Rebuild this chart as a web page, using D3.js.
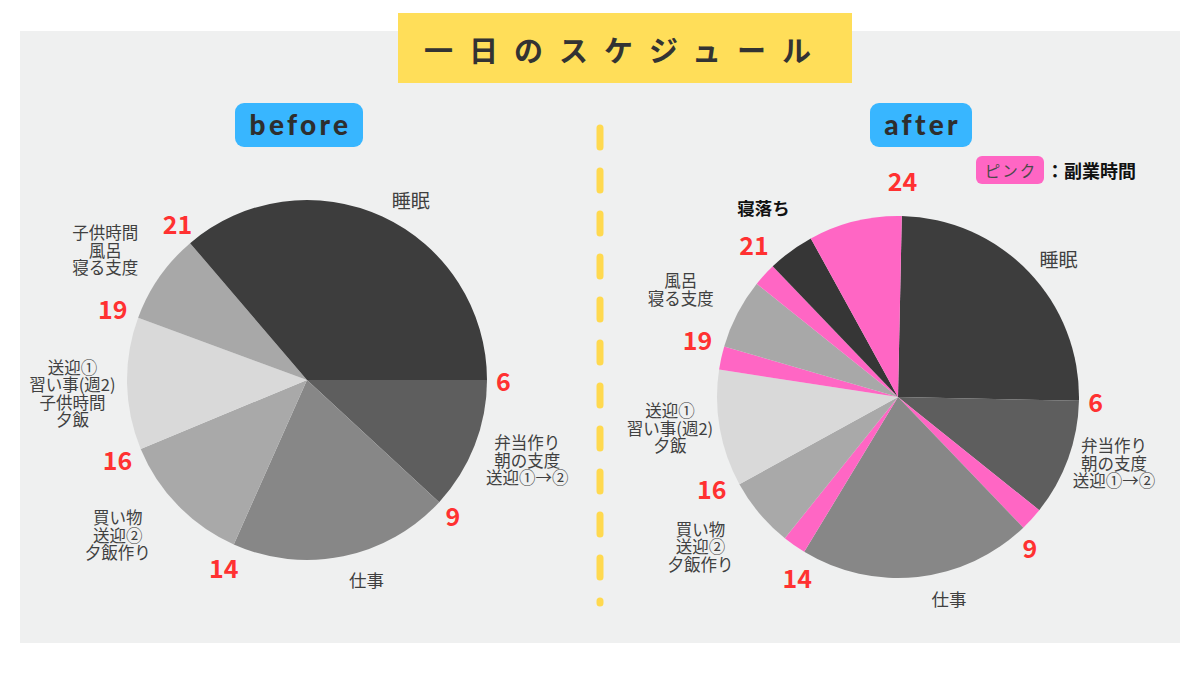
<!DOCTYPE html>
<html>
<head>
<meta charset="utf-8">
<script src="https://cdn.jsdelivr.net/npm/d3@7"></script>
<style>
  body { margin: 0; background: #fff; }
  text { font-family: "Noto Sans CJK JP", "Noto Sans", sans-serif; }
</style>
</head>
<body>
<div id="chart"></div>
<script>
// ---- data: before ----
var beforeKeys   = ["morning", "work", "shopping", "pickup", "bath", "sleep"];
var beforeLabels = [["弁当作り", "朝の支度", "送迎①→②"], ["仕事"], ["買い物", "送迎②", "夕飯作り"],
                    ["送迎①", "習い事(週2)", "子供時間", "夕飯"], ["子供時間", "風呂", "寝る支度"], ["睡眠"]];
var beforeHours  = [2.85, 4.75, 2.9, 2.85, 1.95, 8.7];
var beforeTicks  = ["6", "9", "14", "16", "19", "21"];
var beforeTickAt = [0, 1, 2, 3, 4, 5];   // slice whose start the tick marks

// ---- data: after ----
var afterKeys   = ["sleep", "morning", "side", "work", "side", "shopping", "pickup", "side", "bath", "side", "doze", "side"];
var afterLabels = [["睡眠"], ["弁当作り", "朝の支度", "送迎①→②"], [], ["仕事"], [], ["買い物", "送迎②", "夕飯作り"],
                   ["送迎①", "習い事(週2)", "夕飯"], [], ["風呂", "寝る支度"], [], ["寝落ち"], []];
var afterHours  = [6, 2.5, 0.5, 5, 0.5, 1.5, 2.5, 0.5, 1.5, 0.5, 1, 2];
var afterTicks  = ["24", "6", "9", "14", "16", "19", "21"];
var afterTickAt = [0, 1, 3, 4, 6, 8, 10];

// colours per category
var color = d3.scaleOrdinal()
  .domain(["sleep", "morning", "work", "shopping", "pickup", "bath", "doze", "side"])
  .range(["#3d3d3d", "#5e5e5e", "#878787", "#a9a9a9", "#d9d9d9", "#a8a8a8", "#363636", "#ff66c4"]);

// label font size per category
var labelSize = { sleep: 19, work: 17.5, doze: 17.5 };
var lineH = 17.5;

var svg = d3.select("#chart").append("svg")
  .attr("width", 1200)
  .attr("height", 675);

svg.append("rect").attr("width", 1200).attr("height", 675).attr("fill", "#fff");
svg.append("rect")
  .attr("x", 20).attr("y", 31).attr("width", 1160).attr("height", 612)
  .attr("fill", "#eff0f0");

// title
svg.append("rect")
  .attr("x", 398).attr("y", 13).attr("width", 454).attr("height", 70)
  .attr("fill", "#ffde59");
svg.append("text")
  .attr("x", 424).attr("y", 49)
  .attr("dominant-baseline", "central")
  .attr("font-size", 29).attr("font-weight", 700)
  .attr("letter-spacing", 16)
  .attr("fill", "#333")
  .text("一日のスケジュール");

// divider
svg.append("line")
  .attr("x1", 600).attr("x2", 600).attr("y1", 128).attr("y2", 603)
  .attr("stroke", "#ffd94f").attr("stroke-width", 7)
  .attr("stroke-linecap", "round")
  .attr("stroke-dasharray", "19 24");

// badges
function badge(x, w, label) {
  svg.append("rect")
    .attr("x", x).attr("y", 103).attr("width", w).attr("height", 44)
    .attr("rx", 9).attr("fill", "#38b6ff");
  svg.append("text")
    .attr("x", x + w / 2 + 1.5).attr("y", 124)
    .attr("text-anchor", "middle").attr("dominant-baseline", "central")
    .style("font-family", "Lato, sans-serif")
    .attr("font-size", 28).attr("font-weight", 900)
    .attr("letter-spacing", 3.3)
    .attr("fill", "#2e2e2e")
    .text(label);
}
badge(235, 128, "before");
badge(870, 102, "after");

// legend
svg.append("rect")
  .attr("x", 976).attr("y", 156).attr("width", 68).attr("height", 28)
  .attr("rx", 6).attr("fill", "#ff66c4");
svg.append("text")
  .attr("x", 1011).attr("y", 170)
  .attr("text-anchor", "middle").attr("dominant-baseline", "central")
  .attr("font-size", 15.5).attr("letter-spacing", 2)
  .attr("fill", "#4a4a4a")
  .text("ピンク");
svg.append("text")
  .attr("x", 1046).attr("y", 170)
  .attr("dominant-baseline", "central")
  .attr("font-size", 18).attr("font-weight", 700)
  .attr("fill", "#111")
  .text("：副業時間");

// move a text block (centred on 0,0) just outside the pie at angle a
function placeOut(node, a, dist, w, h) {
  var sx = Math.sin(a), sy = -Math.cos(a);
  var ext = Math.abs(sx) * w / 2 + Math.abs(sy) * h / 2;
  d3.select(node).attr("transform",
    "translate(" + (sx * (dist + ext)) + "," + (sy * (dist + ext)) + ")");
}

function drawPie(opt) {
  var rows = opt.keys.map(function(k, i) {
    return { key: k, hours: opt.hours[i], label: opt.labels[i] };
  });

  var pie = d3.pie()
    .sort(null)
    .value(d => d.hours)
    .startAngle(opt.start)
    .endAngle(opt.start + 2 * Math.PI);

  var arc = d3.arc().innerRadius(0).outerRadius(opt.r);
  var arcs = pie(rows);

  var g = svg.append("g")
    .attr("transform", `translate(${opt.cx}, ${opt.cy})`);

  g.selectAll("path")
    .data(arcs)
    .enter()
    .append("path")
    .attr("d", arc)
    .attr("fill", d => color(d.data.key));

  // activity labels
  arcs.forEach(function(d, i) {
    var lines = d.data.label;
    if (!lines.length) return;
    var lay = opt.labelLayout[i];
    var fs = labelSize[d.data.key] || 16.5;
    var bold = d.data.key === "doze";
    var t = g.append("text")
      .attr("text-anchor", "middle")
      .attr("dominant-baseline", "central")
      .attr("font-size", fs)
      .attr("font-weight", bold ? 700 : 400)
      .attr("fill", bold ? "#111" : "#404040");
    lines.forEach(function(line, j) {
      t.append("tspan")
        .attr("x", 0)
        .attr("y", (j - (lines.length - 1) / 2) * lineH)
        .text(line);
    });
    var w = t.node().getBBox().width;
    var h = (lines.length - 1) * lineH + fs * 0.9;
    var mid = (d.startAngle + d.endAngle) / 2 + lay[0] * Math.PI / 180;
    placeOut(t.node(), mid, opt.r + lay[1], w, h);
  });

  // hour ticks on slice boundaries
  opt.ticks.forEach(function(txt, i) {
    var a = arcs[opt.tickAt[i]].startAngle + opt.tickNudge[i] * Math.PI / 180;
    var t = g.append("text")
      .attr("text-anchor", "middle")
      .attr("dominant-baseline", "central")
      .attr("font-size", 25).attr("font-weight", 700)
      .attr("fill", "#ff3131")
      .text(txt);
    var w = t.node().getBBox().width;
    placeOut(t.node(), a, opt.r + opt.tickPad[i], w, 25 * 0.75);
  });
}

drawPie({
  cx: 307, cy: 380, r: 180, start: Math.PI / 2,
  keys: beforeKeys, hours: beforeHours, labels: beforeLabels,
  ticks: beforeTicks, tickAt: beforeTickAt,
  tickPad: [9, 7, 10, 8, 10, 7],
  tickNudge: [0, 0, 0, 0, 0, 1],
  labelLayout: [[-1.5, 7], [-5, 15], [5, 23], [-2, 10], [-2, 19], [5, 12]]
});

drawPie({
  cx: 898, cy: 397, r: 181, start: 0.021,
  keys: afterKeys, hours: afterHours, labels: afterLabels,
  ticks: afterTicks, tickAt: afterTickAt,
  tickPad: [26, 9, 7, 10, 9, 11, 12],
  tickNudge: [0, 0, 2.5, -2, 2.7, 0, 0.5],
  labelLayout: [[3, 11], [-3, -2], null, [-8, 14], null, [3, 25], [2.4, 3], null, [-1, 25], null, [1, 30], null]
});
</script>
</body>
</html>
